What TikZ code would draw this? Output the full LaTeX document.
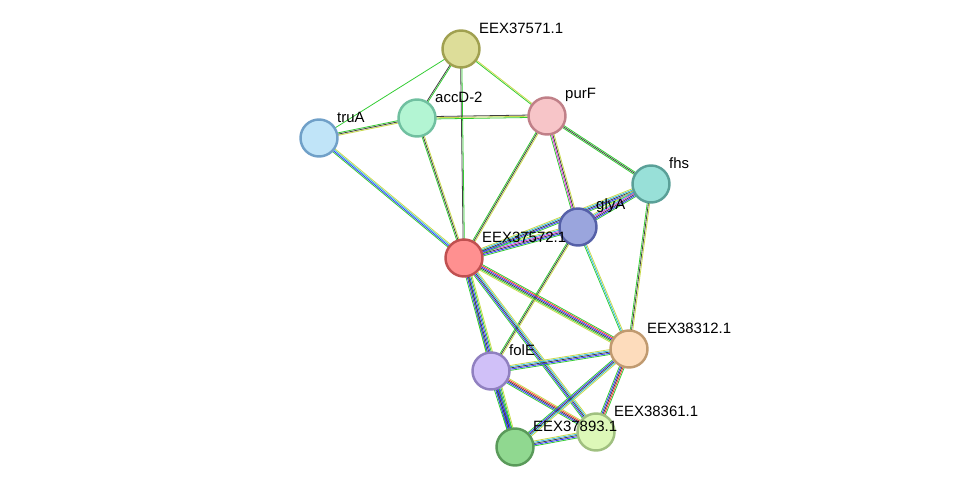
\documentclass[tikz,border=0pt]{standalone}
\usepackage{fontspec}
\setmainfont{Liberation Sans}
\usetikzlibrary{calc, backgrounds}
\definecolor{g}{HTML}{33CC33}
\definecolor{y}{HTML}{C8D94A}
\definecolor{k}{HTML}{404040}
\definecolor{b}{HTML}{3333FF}
\definecolor{c}{HTML}{33BBDD}
\definecolor{r}{HTML}{FF3333}
\definecolor{m}{HTML}{DD33DD}
\definecolor{fA}{HTML}{DDDD99}\definecolor{dA}{HTML}{A0A050}
\definecolor{fB}{HTML}{B3F5D3}\definecolor{dB}{HTML}{70C0A0}
\definecolor{fC}{HTML}{C0E4F8}\definecolor{dC}{HTML}{70A0C8}
\definecolor{fD}{HTML}{F7C5C8}\definecolor{dD}{HTML}{C08088}
\definecolor{fE}{HTML}{98E0D8}\definecolor{dE}{HTML}{5AA098}
\definecolor{fF}{HTML}{9AA5DD}\definecolor{dF}{HTML}{5560A8}
\definecolor{fG}{HTML}{FF9090}\definecolor{dG}{HTML}{C05050}
\definecolor{fH}{HTML}{FDDCBC}\definecolor{dH}{HTML}{C09A70}
\definecolor{fI}{HTML}{D0C0F8}\definecolor{dI}{HTML}{9080C0}
\definecolor{fJ}{HTML}{DDF8B8}\definecolor{dJ}{HTML}{A0C080}
\definecolor{fK}{HTML}{90D890}\definecolor{dK}{HTML}{5A9A5A}
\tikzset{
  prot/.style 2 args={circle, minimum size=0.74cm, line width=1.4pt, fill=#1, draw=#2},
  lbl/.style={anchor=west, font=\fontsize{8.5}{10}\selectfont, inner sep=0.5pt},
  strand/.style={line width=0.45pt}
}
\newcommand\link[3]{%
  \foreach \c [count=\n] in {#3} {\xdef\nlinks{\n}}%
  \foreach \c [count=\i] in {#3} {%
    \pgfmathsetmacro\o{(\i-(\nlinks+1)/2)*0.7}%
    \draw[draw=\c, strand] ($(#1)!\o pt!90:(#2)$) -- ($(#2)!\o pt!-90:(#1)$);}%
}

\begin{document}
\begin{tikzpicture}[x=0.02cm, y=-0.02cm]
  \useasboundingbox (0,0) rectangle (975,493);
  % proteins
  \node[prot={fA}{dA}] (e571) at (461,49) {};
  \node[prot={fB}{dB}] (accd) at (417,118) {};
  \node[prot={fC}{dC}] (trua) at (319,138) {};
  \node[prot={fD}{dD}] (purf) at (547,116) {};
  \node[prot={fE}{dE}] (fhs) at (651,184) {};
  \node[prot={fF}{dF}] (glya) at (578,227) {};
  \node[prot={fG}{dG}] (e572) at (464,258) {};
  \node[prot={fH}{dH}] (e312) at (629,349) {};
  \node[prot={fI}{dI}] (fole) at (491,371) {};
  \node[prot={fJ}{dJ}] (e361) at (596,432) {};
  \node[prot={fK}{dK}] (e893) at (515,447) {};
  % labels
  \foreach \n/\t in {e571/EEX37571.1, accd/accD-2, trua/truA, purf/purF, fhs/fhs,
    glya/glyA, e572/EEX37572.1, e312/EEX38312.1, fole/folE, e361/EEX38361.1, e893/EEX37893.1}
    \node[lbl] (l-\n) at ($(\n)+(17,-21)$) {\t};
  % links
  \begin{scope}[on background layer]
    \link{e571}{trua}{g}
    \link{e571}{accd}{k,g}
    \link{e571}{e572}{k,g}
    \link{e571}{purf}{g,y}
    \link{trua}{accd}{y,k,g}
    \link{accd}{purf}{g,y,k}
    \link{trua}{e572}{g,b,c,y}
    \link{accd}{e572}{g,k,y}
    \link{purf}{e572}{g,k,y}
    \link{purf}{fhs}{g,k,g}
    \link{purf}{glya}{g,m,k,y}
    \link{e572}{glya}{g,b,k,m,c,y}
    \link{e572}{fhs}{g,b,k,c,y}
    \link{glya}{fhs}{g,b,k,m,c,y}
    \link{fhs}{e312}{g,k,y}
    \link{glya}{e312}{g,c,y}
    \link{glya}{fole}{g,k,y}
    \link{e572}{e312}{y,g,k,b,r,g}
    \link{e572}{fole}{y,g}
    \link{e572}{e893}{g,b,k,b,g,y}
    \link{e572}{e361}{g,b,k,c,y}
    \link{fole}{e312}{g,b,k,c,y}
    \link{fole}{e361}{g,b,k,r,y}
    \link{fole}{e893}{g,b,k,b,g}
    \link{e312}{e361}{g,b,k,r,g}
    \link{e312}{e893}{g,b,k,c,y}
    \link{e893}{e361}{g,b,k,c,y}
  \end{scope}
\end{tikzpicture}
\end{document}
